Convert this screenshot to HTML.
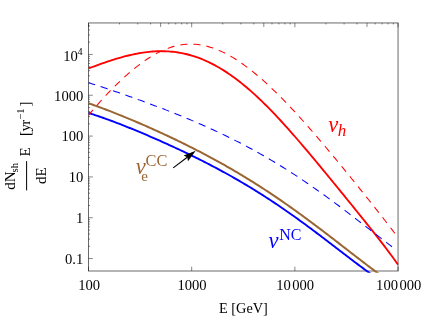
<!DOCTYPE html>
<html><head><meta charset="utf-8"><style>
html,body{margin:0;padding:0;background:#fff;}
svg{display:block}
text{font-family:"Liberation Serif",serif;}
</style></head><body>
<svg width="422" height="316" viewBox="0 0 422 316">
<rect width="422" height="316" fill="#fff"/>
<defs><filter id="noLcd" filterUnits="userSpaceOnUse" x="0" y="0" width="422" height="316"><feOffset dx="0" dy="0"/></filter><clipPath id="c"><rect x="88.5" y="22.95" width="309.85" height="249.75"/></clipPath></defs>
<!-- frame -->
<g stroke="#6a6a6a" stroke-width="1" fill="none">
<rect x="88.5" y="22.95" width="309.55" height="248.05"/>
</g>
<g stroke="#111" stroke-width="0.5">
<line x1="88.50" y1="271.0" x2="88.50" y2="266.7"/>
<line x1="88.50" y1="22.95" x2="88.50" y2="27.25"/>
<line x1="191.68" y1="271.0" x2="191.68" y2="266.7"/>
<line x1="191.68" y1="22.95" x2="191.68" y2="27.25"/>
<line x1="294.87" y1="271.0" x2="294.87" y2="266.7"/>
<line x1="294.87" y1="22.95" x2="294.87" y2="27.25"/>
<line x1="398.05" y1="271.0" x2="398.05" y2="266.7"/>
<line x1="398.05" y1="22.95" x2="398.05" y2="27.25"/>
<line x1="119.56" y1="22.95" x2="119.56" y2="24.45"/>
<line x1="137.73" y1="22.95" x2="137.73" y2="24.45"/>
<line x1="150.62" y1="22.95" x2="150.62" y2="24.45"/>
<line x1="160.62" y1="22.95" x2="160.62" y2="26.95"/>
<line x1="168.79" y1="22.95" x2="168.79" y2="24.45"/>
<line x1="175.70" y1="22.95" x2="175.70" y2="24.45"/>
<line x1="181.68" y1="22.95" x2="181.68" y2="24.45"/>
<line x1="186.96" y1="22.95" x2="186.96" y2="24.45"/>
<line x1="222.74" y1="22.95" x2="222.74" y2="24.45"/>
<line x1="240.91" y1="22.95" x2="240.91" y2="24.45"/>
<line x1="253.81" y1="22.95" x2="253.81" y2="24.45"/>
<line x1="263.81" y1="22.95" x2="263.81" y2="26.95"/>
<line x1="271.98" y1="22.95" x2="271.98" y2="24.45"/>
<line x1="278.88" y1="22.95" x2="278.88" y2="24.45"/>
<line x1="284.87" y1="22.95" x2="284.87" y2="24.45"/>
<line x1="290.15" y1="22.95" x2="290.15" y2="24.45"/>
<line x1="325.93" y1="22.95" x2="325.93" y2="24.45"/>
<line x1="344.10" y1="22.95" x2="344.10" y2="24.45"/>
<line x1="356.99" y1="22.95" x2="356.99" y2="24.45"/>
<line x1="366.99" y1="22.95" x2="366.99" y2="26.95"/>
<line x1="375.16" y1="22.95" x2="375.16" y2="24.45"/>
<line x1="382.07" y1="22.95" x2="382.07" y2="24.45"/>
<line x1="388.05" y1="22.95" x2="388.05" y2="24.45"/>
<line x1="393.33" y1="22.95" x2="393.33" y2="24.45"/>
<line x1="88.5" y1="258.55" x2="92.8" y2="258.55"/>
<line x1="88.5" y1="246.26" x2="90.1" y2="246.26"/>
<line x1="88.5" y1="239.07" x2="90.1" y2="239.07"/>
<line x1="88.5" y1="233.97" x2="90.1" y2="233.97"/>
<line x1="88.5" y1="230.02" x2="90.1" y2="230.02"/>
<line x1="88.5" y1="226.79" x2="90.1" y2="226.79"/>
<line x1="88.5" y1="224.05" x2="90.1" y2="224.05"/>
<line x1="88.5" y1="221.69" x2="90.1" y2="221.69"/>
<line x1="88.5" y1="219.60" x2="90.1" y2="219.60"/>
<line x1="88.5" y1="217.73" x2="92.8" y2="217.73"/>
<line x1="88.5" y1="205.44" x2="90.1" y2="205.44"/>
<line x1="88.5" y1="198.25" x2="90.1" y2="198.25"/>
<line x1="88.5" y1="193.15" x2="90.1" y2="193.15"/>
<line x1="88.5" y1="189.20" x2="90.1" y2="189.20"/>
<line x1="88.5" y1="185.97" x2="90.1" y2="185.97"/>
<line x1="88.5" y1="183.23" x2="90.1" y2="183.23"/>
<line x1="88.5" y1="180.87" x2="90.1" y2="180.87"/>
<line x1="88.5" y1="178.78" x2="90.1" y2="178.78"/>
<line x1="88.5" y1="176.91" x2="92.8" y2="176.91"/>
<line x1="88.5" y1="164.62" x2="90.1" y2="164.62"/>
<line x1="88.5" y1="157.43" x2="90.1" y2="157.43"/>
<line x1="88.5" y1="152.33" x2="90.1" y2="152.33"/>
<line x1="88.5" y1="148.38" x2="90.1" y2="148.38"/>
<line x1="88.5" y1="145.15" x2="90.1" y2="145.15"/>
<line x1="88.5" y1="142.41" x2="90.1" y2="142.41"/>
<line x1="88.5" y1="140.05" x2="90.1" y2="140.05"/>
<line x1="88.5" y1="137.96" x2="90.1" y2="137.96"/>
<line x1="88.5" y1="136.09" x2="92.8" y2="136.09"/>
<line x1="88.5" y1="123.80" x2="90.1" y2="123.80"/>
<line x1="88.5" y1="116.61" x2="90.1" y2="116.61"/>
<line x1="88.5" y1="111.51" x2="90.1" y2="111.51"/>
<line x1="88.5" y1="107.56" x2="90.1" y2="107.56"/>
<line x1="88.5" y1="104.33" x2="90.1" y2="104.33"/>
<line x1="88.5" y1="101.59" x2="90.1" y2="101.59"/>
<line x1="88.5" y1="99.23" x2="90.1" y2="99.23"/>
<line x1="88.5" y1="97.14" x2="90.1" y2="97.14"/>
<line x1="88.5" y1="95.27" x2="92.8" y2="95.27"/>
<line x1="88.5" y1="82.98" x2="90.1" y2="82.98"/>
<line x1="88.5" y1="75.79" x2="90.1" y2="75.79"/>
<line x1="88.5" y1="70.69" x2="90.1" y2="70.69"/>
<line x1="88.5" y1="66.74" x2="90.1" y2="66.74"/>
<line x1="88.5" y1="63.51" x2="90.1" y2="63.51"/>
<line x1="88.5" y1="60.77" x2="90.1" y2="60.77"/>
<line x1="88.5" y1="58.41" x2="90.1" y2="58.41"/>
<line x1="88.5" y1="56.32" x2="90.1" y2="56.32"/>
<line x1="88.5" y1="54.45" x2="92.8" y2="54.45"/>
<line x1="88.5" y1="42.16" x2="90.1" y2="42.16"/>
<line x1="88.5" y1="34.97" x2="90.1" y2="34.97"/>
<line x1="88.5" y1="29.87" x2="90.1" y2="29.87"/>
<line x1="88.5" y1="25.92" x2="90.1" y2="25.92"/>
</g>
<g clip-path="url(#c)" fill="none" stroke-linejoin="round">
<path d="M88.50,68.47 L90.45,67.73 L92.39,67.00 L94.34,66.28 L96.29,65.56 L98.23,64.86 L100.18,64.16 L102.13,63.47 L104.07,62.79 L106.02,62.12 L107.97,61.46 L109.92,60.82 L111.86,60.19 L113.81,59.57 L115.76,58.97 L117.70,58.39 L119.65,57.82 L121.60,57.27 L123.54,56.73 L125.49,56.22 L127.44,55.73 L129.38,55.26 L131.33,54.81 L133.28,54.38 L135.22,53.97 L137.17,53.59 L139.12,53.24 L141.07,52.91 L143.01,52.61 L144.96,52.33 L146.91,52.08 L148.85,51.87 L150.80,51.68 L152.75,51.52 L154.69,51.39 L156.64,51.29 L158.59,51.23 L160.53,51.20 L162.48,51.20 L164.43,51.24 L166.37,51.31 L168.32,51.41 L170.27,51.56 L172.21,51.73 L174.16,51.95 L176.11,52.20 L178.06,52.49 L180.00,52.81 L181.95,53.17 L183.90,53.58 L185.84,54.02 L187.79,54.50 L189.74,55.01 L191.68,55.57 L193.63,56.17 L195.58,56.81 L197.52,57.48 L199.47,58.20 L201.42,58.96 L203.36,59.75 L205.31,60.59 L207.26,61.47 L209.21,62.38 L211.15,63.34 L213.10,64.33 L215.05,65.37 L216.99,66.44 L218.94,67.56 L220.89,68.71 L222.83,69.90 L224.78,71.13 L226.73,72.40 L228.67,73.70 L230.62,75.04 L232.57,76.42 L234.51,77.84 L236.46,79.29 L238.41,80.77 L240.35,82.30 L242.30,83.85 L244.25,85.44 L246.20,87.07 L248.14,88.72 L250.09,90.41 L252.04,92.13 L253.98,93.88 L255.93,95.67 L257.88,97.48 L259.82,99.32 L261.77,101.18 L263.72,103.08 L265.66,105.00 L267.61,106.95 L269.56,108.92 L271.50,110.92 L273.45,112.94 L275.40,114.98 L277.34,117.05 L279.29,119.14 L281.24,121.25 L283.19,123.37 L285.13,125.52 L287.08,127.68 L289.03,129.86 L290.97,132.06 L292.92,134.27 L294.87,136.50 L296.81,138.74 L298.76,140.99 L300.71,143.26 L302.65,145.54 L304.60,147.83 L306.55,150.13 L308.49,152.44 L310.44,154.75 L312.39,157.08 L314.34,159.41 L316.28,161.75 L318.23,164.10 L320.18,166.45 L322.12,168.80 L324.07,171.16 L326.02,173.53 L327.96,175.90 L329.91,178.27 L331.86,180.65 L333.80,183.02 L335.75,185.40 L337.70,187.79 L339.64,190.17 L341.59,192.56 L343.54,194.95 L345.48,197.34 L347.43,199.73 L349.38,202.12 L351.33,204.52 L353.27,206.92 L355.22,209.32 L357.17,211.73 L359.11,214.14 L361.06,216.55 L363.01,218.97 L364.95,221.39 L366.90,223.82 L368.85,226.26 L370.79,228.71 L372.74,231.17 L374.69,233.63 L376.63,236.11 L378.58,238.60 L380.53,241.11 L382.48,243.64 L384.42,246.18 L386.37,248.74 L388.32,251.32 L390.26,253.93 L392.21,256.57 L394.16,259.23 L396.10,261.93 L398.05,264.65" stroke="#ff0000" stroke-width="1.85"/>
<path d="M88.50,103.25 L90.35,103.90 L92.19,104.54 L94.04,105.20 L95.88,105.86 L97.73,106.53 L99.58,107.21 L101.42,107.89 L103.27,108.58 L105.11,109.28 L106.96,109.98 L108.81,110.69 L110.65,111.40 L112.50,112.12 L114.34,112.85 L116.19,113.58 L118.03,114.32 L119.88,115.06 L121.73,115.80 L123.57,116.56 L125.42,117.31 L127.26,118.08 L129.11,118.84 L130.96,119.61 L132.80,120.39 L134.65,121.17 L136.49,121.96 L138.34,122.75 L140.19,123.54 L142.03,124.34 L143.88,125.14 L145.72,125.95 L147.57,126.77 L149.42,127.58 L151.26,128.41 L153.11,129.23 L154.95,130.06 L156.80,130.90 L158.64,131.74 L160.49,132.58 L162.34,133.43 L164.18,134.29 L166.03,135.15 L167.87,136.01 L169.72,136.88 L171.57,137.75 L173.41,138.63 L175.26,139.51 L177.10,140.40 L178.95,141.30 L180.80,142.19 L182.64,143.10 L184.49,144.01 L186.33,144.92 L188.18,145.84 L190.03,146.77 L191.87,147.70 L193.72,148.63 L195.56,149.57 L197.41,150.52 L199.25,151.47 L201.10,152.43 L202.95,153.40 L204.79,154.37 L206.64,155.35 L208.48,156.33 L210.33,157.32 L212.18,158.32 L214.02,159.32 L215.87,160.33 L217.71,161.34 L219.56,162.36 L221.41,163.39 L223.25,164.43 L225.10,165.47 L226.94,166.52 L228.79,167.58 L230.64,168.64 L232.48,169.71 L234.33,170.79 L236.17,171.87 L238.02,172.96 L239.86,174.06 L241.71,175.17 L243.56,176.28 L245.40,177.40 L247.25,178.53 L249.09,179.67 L250.94,180.81 L252.79,181.96 L254.63,183.12 L256.48,184.29 L258.32,185.46 L260.17,186.65 L262.02,187.84 L263.86,189.03 L265.71,190.24 L267.55,191.45 L269.40,192.67 L271.25,193.90 L273.09,195.13 L274.94,196.38 L276.78,197.63 L278.63,198.88 L280.47,200.15 L282.32,201.42 L284.17,202.70 L286.01,203.99 L287.86,205.28 L289.70,206.58 L291.55,207.89 L293.40,209.20 L295.24,210.53 L297.09,211.85 L298.93,213.19 L300.78,214.53 L302.63,215.88 L304.47,217.23 L306.32,218.59 L308.16,219.95 L310.01,221.33 L311.86,222.70 L313.70,224.08 L315.55,225.47 L317.39,226.86 L319.24,228.26 L321.08,229.66 L322.93,231.06 L324.78,232.47 L326.62,233.88 L328.47,235.29 L330.31,236.71 L332.16,238.13 L334.01,239.56 L335.85,240.98 L337.70,242.41 L339.54,243.84 L341.39,245.27 L343.24,246.70 L345.08,248.13 L346.93,249.56 L348.77,250.99 L350.62,252.42 L352.47,253.85 L354.31,255.28 L356.16,256.70 L358.00,258.12 L359.85,259.54 L361.69,260.96 L363.54,262.37 L365.39,263.78 L367.23,265.18 L369.08,266.58 L370.92,267.97 L372.77,269.35 L374.62,270.73 L376.46,272.10 L378.31,273.46 L380.15,274.81 L382.00,276.15" stroke="#996633" stroke-width="2.0"/>
<path d="M88.50,112.97 L90.30,113.53 L92.09,114.11 L93.89,114.69 L95.68,115.29 L97.48,115.89 L99.27,116.50 L101.07,117.12 L102.86,117.75 L104.66,118.39 L106.46,119.03 L108.25,119.68 L110.05,120.34 L111.84,121.01 L113.64,121.68 L115.43,122.36 L117.23,123.04 L119.03,123.73 L120.82,124.43 L122.62,125.13 L124.41,125.84 L126.21,126.56 L128.00,127.27 L129.80,128.00 L131.59,128.73 L133.39,129.46 L135.19,130.20 L136.98,130.94 L138.78,131.69 L140.57,132.44 L142.37,133.19 L144.16,133.95 L145.96,134.72 L147.75,135.48 L149.55,136.26 L151.35,137.03 L153.14,137.81 L154.94,138.60 L156.73,139.39 L158.53,140.18 L160.32,140.98 L162.12,141.78 L163.92,142.58 L165.71,143.39 L167.51,144.20 L169.30,145.02 L171.10,145.84 L172.89,146.67 L174.69,147.50 L176.48,148.33 L178.28,149.17 L180.08,150.01 L181.87,150.86 L183.67,151.71 L185.46,152.57 L187.26,153.43 L189.05,154.30 L190.85,155.17 L192.64,156.05 L194.44,156.93 L196.24,157.82 L198.03,158.71 L199.83,159.61 L201.62,160.51 L203.42,161.42 L205.21,162.33 L207.01,163.25 L208.81,164.18 L210.60,165.11 L212.40,166.05 L214.19,166.99 L215.99,167.94 L217.78,168.90 L219.58,169.86 L221.37,170.83 L223.17,171.81 L224.97,172.79 L226.76,173.78 L228.56,174.78 L230.35,175.78 L232.15,176.79 L233.94,177.81 L235.74,178.84 L237.53,179.87 L239.33,180.91 L241.13,181.96 L242.92,183.01 L244.72,184.07 L246.51,185.14 L248.31,186.22 L250.10,187.31 L251.90,188.40 L253.69,189.50 L255.49,190.61 L257.29,191.73 L259.08,192.86 L260.88,193.99 L262.67,195.13 L264.47,196.28 L266.26,197.44 L268.06,198.61 L269.86,199.78 L271.65,200.96 L273.45,202.15 L275.24,203.35 L277.04,204.56 L278.83,205.77 L280.63,206.99 L282.42,208.22 L284.22,209.46 L286.02,210.70 L287.81,211.95 L289.61,213.21 L291.40,214.48 L293.20,215.75 L294.99,217.03 L296.79,218.32 L298.58,219.61 L300.38,220.91 L302.18,222.22 L303.97,223.53 L305.77,224.85 L307.56,226.18 L309.36,227.51 L311.15,228.85 L312.95,230.19 L314.75,231.53 L316.54,232.88 L318.34,234.24 L320.13,235.60 L321.93,236.96 L323.72,238.32 L325.52,239.69 L327.31,241.06 L329.11,242.44 L330.91,243.81 L332.70,245.19 L334.50,246.57 L336.29,247.95 L338.09,249.33 L339.88,250.71 L341.68,252.08 L343.47,253.46 L345.27,254.84 L347.07,256.21 L348.86,257.58 L350.66,258.95 L352.45,260.31 L354.25,261.67 L356.04,263.02 L357.84,264.37 L359.64,265.72 L361.43,267.05 L363.23,268.38 L365.02,269.70 L366.82,271.01 L368.61,272.31 L370.41,273.60 L372.20,274.88 L374.00,276.15" stroke="#0000ff" stroke-width="1.9"/>
<path d="M88.50,82.69 L90.45,83.30 L92.39,83.92 L94.34,84.54 L96.29,85.17 L98.23,85.80 L100.18,86.43 L102.13,87.07 L104.07,87.71 L106.02,88.36 L107.97,89.01 L109.92,89.66 L111.86,90.32 L113.81,90.98 L115.76,91.64 L117.70,92.31 L119.65,92.98 L121.60,93.66 L123.54,94.34 L125.49,95.02 L127.44,95.70 L129.38,96.39 L131.33,97.08 L133.28,97.78 L135.22,98.47 L137.17,99.18 L139.12,99.88 L141.07,100.59 L143.01,101.30 L144.96,102.01 L146.91,102.73 L148.85,103.45 L150.80,104.18 L152.75,104.91 L154.69,105.64 L156.64,106.38 L158.59,107.12 L160.53,107.86 L162.48,108.61 L164.43,109.36 L166.37,110.12 L168.32,110.88 L170.27,111.65 L172.21,112.42 L174.16,113.19 L176.11,113.97 L178.06,114.76 L180.00,115.54 L181.95,116.34 L183.90,117.14 L185.84,117.94 L187.79,118.75 L189.74,119.57 L191.68,120.39 L193.63,121.21 L195.58,122.05 L197.52,122.89 L199.47,123.73 L201.42,124.58 L203.36,125.44 L205.31,126.30 L207.26,127.17 L209.21,128.05 L211.15,128.93 L213.10,129.82 L215.05,130.72 L216.99,131.62 L218.94,132.54 L220.89,133.46 L222.83,134.38 L224.78,135.32 L226.73,136.26 L228.67,137.21 L230.62,138.17 L232.57,139.14 L234.51,140.11 L236.46,141.10 L238.41,142.09 L240.35,143.09 L242.30,144.10 L244.25,145.12 L246.20,146.15 L248.14,147.18 L250.09,148.23 L252.04,149.28 L253.98,150.35 L255.93,151.42 L257.88,152.50 L259.82,153.59 L261.77,154.69 L263.72,155.81 L265.66,156.93 L267.61,158.06 L269.56,159.20 L271.50,160.35 L273.45,161.50 L275.40,162.67 L277.34,163.85 L279.29,165.04 L281.24,166.24 L283.19,167.45 L285.13,168.67 L287.08,169.89 L289.03,171.13 L290.97,172.38 L292.92,173.64 L294.87,174.90 L296.81,176.18 L298.76,177.47 L300.71,178.76 L302.65,180.07 L304.60,181.38 L306.55,182.71 L308.49,184.04 L310.44,185.38 L312.39,186.73 L314.34,188.09 L316.28,189.46 L318.23,190.83 L320.18,192.22 L322.12,193.61 L324.07,195.01 L326.02,196.42 L327.96,197.84 L329.91,199.26 L331.86,200.69 L333.80,202.13 L335.75,203.58 L337.70,205.03 L339.64,206.49 L341.59,207.95 L343.54,209.42 L345.48,210.89 L347.43,212.37 L349.38,213.86 L351.33,215.35 L353.27,216.84 L355.22,218.33 L357.17,219.83 L359.11,221.34 L361.06,222.84 L363.01,224.35 L364.95,225.86 L366.90,227.37 L368.85,228.88 L370.79,230.39 L372.74,231.90 L374.69,233.41 L376.63,234.92 L378.58,236.43 L380.53,237.93 L382.48,239.44 L384.42,240.94 L386.37,242.43 L388.32,243.92 L390.26,245.41 L392.21,246.89 L394.16,248.36 L396.10,249.83" stroke="#0000ff" stroke-width="1.05" stroke-dasharray="7.4 5.7" stroke-dashoffset="0.4"/>
<path d="M88.50,115.37 L90.45,112.95 L92.39,110.58 L94.34,108.27 L96.29,106.00 L98.23,103.78 L100.18,101.59 L102.13,99.44 L104.07,97.33 L106.02,95.25 L107.97,93.20 L109.92,91.18 L111.86,89.19 L113.81,87.24 L115.76,85.31 L117.70,83.42 L119.65,81.55 L121.60,79.72 L123.54,77.92 L125.49,76.15 L127.44,74.42 L129.38,72.72 L131.33,71.06 L133.28,69.44 L135.22,67.85 L137.17,66.31 L139.12,64.80 L141.07,63.35 L143.01,61.93 L144.96,60.56 L146.91,59.24 L148.85,57.96 L150.80,56.74 L152.75,55.57 L154.69,54.45 L156.64,53.38 L158.59,52.37 L160.53,51.41 L162.48,50.51 L164.43,49.66 L166.37,48.88 L168.32,48.15 L170.27,47.48 L172.21,46.87 L174.16,46.33 L176.11,45.84 L178.06,45.41 L180.00,45.05 L181.95,44.75 L183.90,44.50 L185.84,44.32 L187.79,44.21 L189.74,44.15 L191.68,44.15 L193.63,44.22 L195.58,44.35 L197.52,44.53 L199.47,44.78 L201.42,45.08 L203.36,45.45 L205.31,45.87 L207.26,46.34 L209.21,46.88 L211.15,47.47 L213.10,48.12 L215.05,48.82 L216.99,49.57 L218.94,50.37 L220.89,51.23 L222.83,52.13 L224.78,53.09 L226.73,54.09 L228.67,55.15 L230.62,56.24 L232.57,57.39 L234.51,58.57 L236.46,59.80 L238.41,61.07 L240.35,62.39 L242.30,63.74 L244.25,65.13 L246.20,66.56 L248.14,68.03 L250.09,69.53 L252.04,71.07 L253.98,72.64 L255.93,74.25 L257.88,75.88 L259.82,77.55 L261.77,79.25 L263.72,80.98 L265.66,82.73 L267.61,84.51 L269.56,86.32 L271.50,88.16 L273.45,90.02 L275.40,91.91 L277.34,93.82 L279.29,95.75 L281.24,97.71 L283.19,99.68 L285.13,101.68 L287.08,103.70 L289.03,105.74 L290.97,107.79 L292.92,109.87 L294.87,111.96 L296.81,114.07 L298.76,116.20 L300.71,118.34 L302.65,120.51 L304.60,122.68 L306.55,124.87 L308.49,127.08 L310.44,129.29 L312.39,131.53 L314.34,133.77 L316.28,136.03 L318.23,138.30 L320.18,140.58 L322.12,142.87 L324.07,145.17 L326.02,147.48 L327.96,149.80 L329.91,152.13 L331.86,154.47 L333.80,156.82 L335.75,159.18 L337.70,161.54 L339.64,163.91 L341.59,166.28 L343.54,168.66 L345.48,171.05 L347.43,173.44 L349.38,175.84 L351.33,178.24 L353.27,180.65 L355.22,183.06 L357.17,185.47 L359.11,187.89 L361.06,190.31 L363.01,192.74 L364.95,195.16 L366.90,197.60 L368.85,200.03 L370.79,202.47 L372.74,204.92 L374.69,207.37 L376.63,209.83 L378.58,212.30 L380.53,214.77 L382.48,217.26 L384.42,219.75 L386.37,222.26 L388.32,224.79 L390.26,227.33 L392.21,229.89 L394.16,232.48 L396.10,235.09 L398.05,237.74" stroke="#ff0000" stroke-width="1.05" stroke-dasharray="7.1 6"/>
</g>
<line x1="173.20" y1="167.90" x2="187.26" y2="157.21" stroke="#000" stroke-width="1.15"/>
<path d="M195.70,150.80 L187.98,161.13 L187.26,157.21 L183.68,155.48 Z" fill="#000"/>
<!-- tick labels -->
<g filter="url(#noLcd)">
<g font-size="14.6px" fill="#000">
<text x="89.1" y="289.8" text-anchor="middle">100</text>
<text x="192.05" y="289.8" text-anchor="middle">1000</text>
<text x="295.2" y="289.8" text-anchor="middle">10<tspan dx="1.4">000</tspan></text>
<text x="398.7" y="289.8" text-anchor="middle">100<tspan dx="1.4">000</tspan></text>
<text x="83.3" y="263.7" text-anchor="end">0.1</text>
<text x="83.3" y="222.9" text-anchor="end">1</text>
<text x="83.3" y="182.4" text-anchor="end">10</text>
<text x="83.3" y="141.45" text-anchor="end">100</text>
<text x="83.3" y="100.65" text-anchor="end">1000</text>
<text x="63.2" y="60.65">10<tspan font-size="10.2px" dx="-0.3" dy="-5.4">4</tspan></text>
</g>
<text x="219" y="312.7" font-size="14.3px">E [GeV]</text>
<!-- y label -->
<g transform="translate(0,190) rotate(-90)" font-size="15px" fill="#000">
<text x="0.3" y="14.8">dN</text>
<text x="17.6" y="17.5" font-size="10.65px">sh</text>
<rect x="-0.4" y="26.1" width="29.3" height="1" fill="#000"/>
<text x="6.1" y="46.1">dE</text>
<text x="33.4" y="30.0">E</text>
<text x="54.1" y="30.0">[</text><text x="58.5" y="30.0">y</text><text x="65.3" y="30.0">r</text>
<text x="70.2" y="24.4" font-size="10.65px">−1</text>
<text x="83.5" y="30.0">]</text>
</g>
<!-- curve labels -->
<g fill="#ff0000"><text x="328.3" y="131.8" font-size="22.5px" font-style="italic">ν</text><text x="337.8" y="136" font-size="17px" font-style="italic">h</text></g>
<g fill="#996633"><text x="135.7" y="174.3" font-size="22.5px" font-style="italic">ν</text>
<text x="145.5" y="165.8" font-size="17.5px" textLength="21.9" lengthAdjust="spacingAndGlyphs">CC</text>
<text x="141.2" y="180.7" font-size="15px">e</text></g>
<g fill="#0000ff"><text x="268.6" y="248.2" font-size="22.5px" font-style="italic">ν</text>
<text x="279.2" y="239.6" font-size="17.5px" textLength="22.2" lengthAdjust="spacingAndGlyphs">NC</text></g>
</g>
</svg>
</body></html>
